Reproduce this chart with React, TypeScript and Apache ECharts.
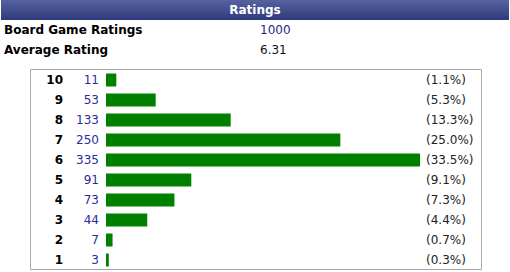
import React, { useEffect, useRef } from "react";
import * as echarts from "echarts";

const ratings = ["10", "9", "8", "7", "6", "5", "4", "3", "2", "1"];
const counts = [11, 53, 133, 250, 335, 91, 73, 44, 7, 3];
const percents = ["(1.1%)", "(5.3%)", "(13.3%)", "(25.0%)", "(33.5%)", "(9.1%)", "(7.3%)", "(4.4%)", "(0.7%)", "(0.3%)"];
const title = "Ratings";
const summaryLabels = ["Board Game Ratings", "Average Rating"];
const summaryValues = ["1000", "6.31"];

const FONT = "'DejaVu Sans', Verdana, sans-serif";

export default function App() {
  const ref = useRef<HTMLDivElement>(null);
  useEffect(() => {
    if (!ref.current) return;
    const chart = echarts.init(ref.current, null, { renderer: "svg" });
    chart.setOption({
      animation: false,
      backgroundColor: "#ffffff",
      textStyle: { fontFamily: FONT },
      graphic: [
        {
          type: "rect",
          shape: { x: 1, y: 0, width: 508, height: 20 },
          style: {
            fill: new echarts.graphic.LinearGradient(0, 0, 0, 1, [
              { offset: 0, color: "#56639f" },
              { offset: 1, color: "#2e3a7e" },
            ]),
          },
        },
        {
          type: "text",
          x: 255,
          y: 10,
          style: {
            text: title,
            fill: "#ffffff",
            font: `bold 12px ${FONT}`,
            align: "center",
            verticalAlign: "middle",
          },
        },
        ...summaryLabels.map((t, i) => ({
          type: "text",
          x: 4,
          y: 30 + i * 20,
          style: {
            text: t,
            fill: "#000000",
            font: `bold 12px ${FONT}`,
            align: "left",
            verticalAlign: "middle",
          },
        })),
        ...summaryValues.map((t, i) => ({
          type: "text",
          x: 260,
          y: 30 + i * 20,
          style: {
            text: t,
            fill: i === 0 ? "#1f2a80" : "#111111",
            font: `12px ${FONT}`,
            align: "left",
            verticalAlign: "middle",
          },
        })),
        {
          type: "rect",
          shape: { x: 30.5, y: 69.5, width: 451, height: 200 },
          style: { fill: "none", stroke: "#aaaaaa", lineWidth: 1 },
          z: 10,
        },
      ],
      grid: { left: 106, right: 90, top: 70, height: 200 },
      xAxis: {
        type: "value",
        min: 0,
        max: "dataMax",
        show: false,
      },
      yAxis: [
        {
          type: "category",
          data: ratings,
          inverse: true,
          position: "left",
          axisLine: { show: false },
          axisTick: { show: false },
          splitLine: { show: false },
          axisLabel: {
            margin: 7,
            formatter: (v: string, i: number) => `{r|${v}}{c|${counts[i]}}`,
            rich: {
              r: { fontFamily: FONT, fontSize: 12, fontWeight: "bold", color: "#000000", align: "right" },
              c: { fontFamily: FONT, fontSize: 12, color: "#2b2b9e", width: 36, align: "right" },
            },
          },
        },
        {
          type: "category",
          data: percents,
          inverse: true,
          position: "right",
          axisLine: { show: false },
          axisTick: { show: false },
          splitLine: { show: false },
          axisLabel: {
            margin: 6,
            fontFamily: FONT,
            fontSize: 12,
            color: "#222222",
          },
        },
      ],
      series: [
        {
          type: "bar",
          data: counts,
          barWidth: 13,
          itemStyle: { color: "#008000" },
        },
      ],
    });
    return () => chart.dispose();
  }, []);
  return (
    <div
      ref={ref}
      style={{ position: "fixed", left: 0, top: 0, width: 510, height: 272 }}
    />
  );
}
